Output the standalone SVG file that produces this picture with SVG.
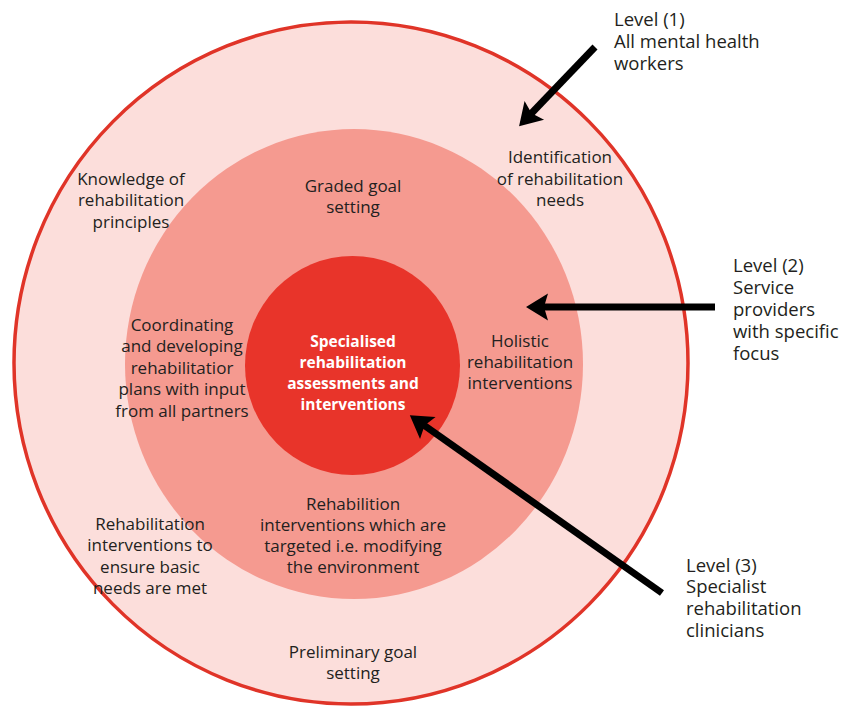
<svg xmlns="http://www.w3.org/2000/svg" width="843" height="706" viewBox="0 0 843 706">
<style>
text{font-family:"Open Sans","Noto Sans","Liberation Sans",sans-serif;font-size:17px;fill:#231f20}
.c{text-anchor:middle}
.w{fill:#ffffff;font-weight:bold;font-size:15.5px}
.cap{font-size:18.5px}
.arrow{stroke:#000;stroke-width:7;fill:none}
</style>
<defs>
<marker id="ah" markerUnits="userSpaceOnUse" markerWidth="24" markerHeight="30" viewBox="0 0 24 30" refX="12" refY="15" orient="auto" overflow="visible">
<path d="M0,1.5 L22,15 L0,28.5 L4,15 Z" fill="#000"/>
</marker>
</defs>
<rect width="843" height="706" fill="#ffffff"/>
<g id="level1-ring">
<ellipse cx="351" cy="363" rx="337" ry="341" fill="#fcdedb" stroke="#e03428" stroke-width="3.5"/>
</g>
<g id="level2-ring">
<ellipse cx="354" cy="364" rx="229" ry="235" fill="#f59a90"/>
</g>
<g id="level3-core">
<ellipse cx="352.5" cy="365.5" rx="107.5" ry="109.5" fill="#e8342a"/>
</g>
<g id="labels-outer">
<text class="c" x="131" y="185">Knowledge of<tspan x="131" y="206">rehabilitation</tspan><tspan x="131" y="228">principles</tspan></text>
<text class="c" x="560" y="163">Identification<tspan x="560" y="185">of rehabilitation</tspan><tspan x="560" y="206">needs</tspan></text>
<text class="c" x="150" y="530">Rehabilitation<tspan x="150" y="551">interventions to</tspan><tspan x="150" y="573">ensure basic</tspan><tspan x="150" y="594">needs are met</tspan></text>
<text class="c" x="353" y="658">Preliminary goal<tspan x="353" y="679">setting</tspan></text>
</g>
<g id="labels-middle">
<text class="c" x="353" y="192">Graded goal<tspan x="353" y="213">setting</tspan></text>
<text class="c" x="182" y="331">Coordinating<tspan x="182" y="352">and developing</tspan><tspan x="182" y="374">rehabilitatior</tspan><tspan x="182" y="395">plans with input</tspan><tspan x="182" y="417">from all partners</tspan></text>
<text class="c" x="520" y="347">Holistic<tspan x="520" y="368">rehabilitation</tspan><tspan x="520" y="389">interventions</tspan></text>
<text class="c" x="353" y="510">Rehabilition<tspan x="353" y="531">interventions which are</tspan><tspan x="353" y="552">targeted i.e. modifying</tspan><tspan x="353" y="573">the environment</tspan></text>
</g>
<g id="labels-core">
<text class="c w" x="353" y="347">Specialised<tspan x="353" y="368">rehabilitation</tspan><tspan x="353" y="389">assessments and</tspan><tspan x="353" y="410">interventions</tspan></text>
</g>
<g id="level-captions">
<text class="cap" x="614" y="26">Level (1)<tspan x="614" y="48">All mental health</tspan><tspan x="614" y="70">workers</tspan></text>
<text class="cap" x="733" y="272">Level (2)<tspan x="733" y="294">Service</tspan><tspan x="733" y="316">providers</tspan><tspan x="733" y="338">with specific</tspan><tspan x="733" y="360">focus</tspan></text>
<text class="cap" x="686" y="572">Level (3)<tspan x="686" y="593">Specialist</tspan><tspan x="686" y="615">rehabilitation</tspan><tspan x="686" y="637">clinicians</tspan></text>
</g>
<g id="connectors">
<line class="arrow" x1="595" y1="47" x2="526" y2="119" marker-end="url(#ah)"/>
<line class="arrow" x1="715" y1="307" x2="536" y2="307" marker-end="url(#ah)"/>
<line class="arrow" x1="662" y1="593" x2="418" y2="421" marker-end="url(#ah)"/>
</g>
</svg>
